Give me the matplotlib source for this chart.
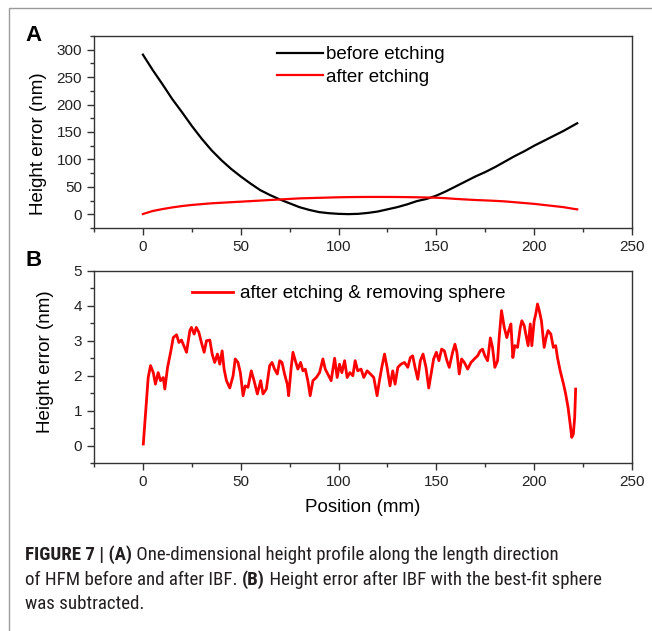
import os
import numpy as np
import matplotlib.pyplot as plt
from matplotlib import font_manager as fm
from matplotlib.patches import Rectangle
from matplotlib.ticker import MultipleLocator

# ---- panel A data ----
pos_a = [0, 5, 10, 15, 20, 25, 30, 35, 40, 45, 50, 55, 60, 65, 70, 75, 80, 85,
         90, 95, 100, 105, 110, 115, 120, 125, 130, 135, 140, 145, 150, 155,
         160, 165, 170, 175, 180, 185, 190, 195, 200, 205, 210, 215, 220, 222]
before = [291, 263, 237, 210, 186, 161, 138, 117, 99, 83, 69, 56, 44, 35, 27,
          20, 13, 8, 4, 2, 0.8, 0.3, 0.8, 2.5, 5, 9, 13, 18, 24, 28, 34, 42,
          51, 60, 69, 77, 86, 96, 106, 115, 125, 134, 143, 152, 162, 166]
after = [0.5, 6, 9.5, 12.5, 15, 17, 18.5, 20, 21, 22, 23, 24, 25, 26, 27, 28,
         29, 29.5, 30, 30.5, 31, 31.3, 31.5, 31.6, 31.6, 31.6, 31.5, 31.3, 31,
         30.6, 30.2, 29.3, 28, 27, 26, 25.3, 24.5, 23.5, 22, 20.5, 19, 17, 15,
         13, 10, 9]

# ---- panel B data (residual after removing sphere) ----
pos_b = [0.2, 1.3, 2.7, 3.9, 5.3, 6.4, 7.8, 9.0, 10.4, 11.2, 12.6, 14.3, 15.5,
         17.2, 18.4, 19.7, 20.9, 22.3, 24.0, 24.8, 26.2, 27.3, 28.6, 29.9, 31.3,
         32.5, 34.2, 35.4, 36.7, 38.1, 39.3, 40.5, 41.5, 42.7, 44.4, 46.1, 47.2,
         48.6, 49.8, 51.2, 52.3, 53.7, 55.4, 56.8, 58.5, 60.2, 61.4, 63.1, 64.8,
         66.0, 67.3, 68.7, 69.9, 71.1, 72.4, 73.8, 74.5, 75.8, 76.7, 77.9, 79.2,
         80.6, 81.8, 83.0, 84.3, 85.5, 86.9, 88.6, 90.3, 92.0, 93.2, 94.5, 96.2,
         98.0, 99.3, 100.5, 101.7, 103.1, 104.4, 105.8, 107.3, 108.5, 109.8,
         111.5, 112.9, 114.6, 116.3, 118.0, 119.7, 120.9, 122.1, 123.5, 124.8,
         126.3, 127.7, 128.9, 130.3, 131.9, 133.7, 135.4, 136.7, 137.9, 139.1,
         140.5, 141.8, 143.2, 144.7, 146.1, 147.3, 148.6, 150.0, 151.3, 152.7,
         154.1, 155.4, 156.6, 158.3, 159.5, 160.5, 161.7, 162.9, 164.3, 166.0,
         167.7, 169.4, 171.1, 172.4, 173.6, 174.8, 176.2, 177.6, 178.7, 179.9,
         181.3, 182.1, 183.3, 184.7, 186.0, 187.0, 188.1, 189.1, 190.1, 191.5,
         192.9, 193.7, 194.9, 195.7, 196.9, 198.0, 198.8, 200.0, 200.8, 201.7,
         202.6, 203.7, 205.1, 206.1, 207.1, 208.5, 209.8, 211.0, 211.9, 213.3,
         215.0, 216.1, 217.3, 218.4, 219.2, 220.0, 220.7, 221.2]
resid = [0.05, 0.9, 1.95, 2.29, 2.09, 1.76, 2.09, 1.86, 1.95, 1.62, 2.24, 2.71,
         3.09, 3.17, 2.95, 3.02, 2.86, 2.67, 3.29, 3.38, 3.19, 3.38, 3.24, 2.95,
         2.67, 3.0, 3.02, 2.62, 2.38, 2.62, 2.33, 2.71, 2.19, 1.86, 1.65, 2.0,
         2.48, 2.38, 2.09, 1.43, 1.71, 1.67, 2.14, 1.86, 1.48, 1.86, 1.48, 1.62,
         2.29, 2.38, 2.19, 2.05, 2.43, 2.38, 2.05, 1.76, 1.43, 2.24, 2.67, 2.43,
         2.19, 2.38, 2.14, 2.19, 1.86, 1.43, 1.86, 1.95, 2.09, 2.48, 2.19, 2.05,
         1.86, 2.5, 1.95, 2.33, 2.09, 2.43, 1.95, 2.09, 2.0, 2.43, 2.14, 2.19,
         1.95, 2.14, 2.05, 1.95, 1.43, 1.86, 2.24, 2.62, 2.24, 1.71, 2.14, 1.76,
         2.24, 2.33, 2.38, 2.24, 2.52, 2.57, 2.24, 1.9, 2.43, 2.62, 2.24, 1.65,
         2.05, 2.48, 2.67, 2.43, 2.76, 2.71, 2.43, 2.24, 2.67, 2.9, 2.67, 2.05,
         2.48, 2.38, 2.19, 2.38, 2.48, 2.57, 2.71, 2.76, 2.57, 2.43, 3.08, 2.81,
         2.24, 2.43, 3.09, 3.86, 3.38, 3.09, 3.29, 3.48, 2.52, 2.86, 2.81, 3.38,
         3.57, 3.43, 3.19, 2.86, 3.48, 2.86, 3.57, 3.76, 4.05, 3.86, 3.57, 2.81,
         3.09, 3.29, 3.19, 2.81, 2.86, 2.52, 2.14, 1.76, 1.48, 1.1, 0.62, 0.24,
         0.33, 0.81, 1.62]

W, H = 652, 631
plt.rcParams['font.family'] = ['Liberation Sans', 'DejaVu Sans']
fig = plt.figure(figsize=(W / 100, H / 100), dpi=100)

def box(l, t, r, b):
    return [l / W, 1 - b / H, (r - l) / W, (b - t) / H]

tick_col = '#222222'

def style(ax):
    ax.xaxis.set_major_locator(MultipleLocator(50))
    ax.xaxis.set_minor_locator(MultipleLocator(25))
    ax.set_xlim(-25, 250)
    ax.tick_params(which='both', direction='out', top=False, right=False,
                   colors='#333333', labelcolor=tick_col, labelsize=11)
    ax.tick_params(which='major', length=5, width=1)
    ax.tick_params(which='minor', length=3, width=1)
    for s in ax.spines.values():
        s.set_color('#333333')
        s.set_linewidth(1)

# Panel A
ax1 = fig.add_axes(box(94, 36, 632, 228))
ax1.plot(pos_a, before, color='black', lw=1.6, label='before etching')
ax1.plot(pos_a, after, color='#ff0000', lw=1.6, label='after etching')
ax1.set_ylim(-25, 325)
ax1.yaxis.set_major_locator(MultipleLocator(50))
ax1.yaxis.set_minor_locator(MultipleLocator(25))
style(ax1)
ax1.set_ylabel('Height error (nm)', fontsize=13.5)
ax1.yaxis.set_label_coords(-0.087, 0.44)
ax1.legend(loc='upper left', bbox_to_anchor=(0.34, 0.948), frameon=False,
           fontsize=13.5, borderpad=0, borderaxespad=0, handlelength=2.45,
           handletextpad=0.16, labelspacing=0.3)

# Panel B
ax2 = fig.add_axes(box(94, 270.7, 632, 463.3))
ax2.plot(pos_b, resid, color='#ff0000', lw=2.0,
         label='after etching & removing sphere')
ax2.set_ylim(-0.5, 5)
ax2.yaxis.set_major_locator(MultipleLocator(1))
ax2.yaxis.set_minor_locator(MultipleLocator(0.5))
style(ax2)
ax2.set_ylabel('Height error (nm)', fontsize=13.5)
ax2.yaxis.set_label_coords(-0.074, 0.527)
ax2.set_xlabel('Position (mm)', fontsize=13.5, labelpad=7)
ax2.legend(loc='upper left', bbox_to_anchor=(0.182, 0.926), frameon=False,
           fontsize=13.5, borderpad=0, borderaxespad=0, handlelength=2.2,
           handletextpad=0.37)

# panel letters
fig.text(33.5 / W, 1 - 35.5 / H, 'A', fontsize=16, fontweight='bold',
         ha='center', va='center')
fig.text(33.5 / W, 1 - 260 / H, 'B', fontsize=16, fontweight='bold',
         ha='center', va='center')

# outer frame (right and bottom edges run off the image)
fig.patches.append(Rectangle((9 / W, -0.05), 1.0, 1.05 - 8 / H,
                             transform=fig.transFigure, fill=False,
                             edgecolor='#9a9a9a', lw=1))


# caption: look for a condensed face, fall back to Liberation Sans
def caption_fonts():
    prefer = ['Liberation Sans Narrow', 'Roboto Condensed', 'Open Sans Condensed',
              'DejaVu Sans']
    groups = {}
    for f in fm.fontManager.ttflist:
        base = os.path.basename(f.fname).lower()
        narrow = ('narrow' in base or 'condensed' in base
                  or 'narrow' in f.name.lower() or 'condensed' in f.name.lower())
        if not narrow or f.style != 'normal':
            continue
        w = f.weight if isinstance(f.weight, int) else \
            {'normal': 400, 'regular': 400, 'bold': 700}.get(f.weight, 0)
        groups.setdefault(f.name, {})[w] = f.fname
    names = [n for n in prefer if n in groups and 400 in groups[n]]
    names += [n for n in groups if n not in names and 400 in groups[n]]
    if names:
        g = groups[names[0]]
        reg = g[400]
        bold = g.get(700, reg)
        return (lambda s: fm.FontProperties(fname=reg, size=s),
                lambda s: fm.FontProperties(fname=bold, size=s))
    return (lambda s: fm.FontProperties(family='Liberation Sans', size=s),
            lambda s: fm.FontProperties(family='Liberation Sans', weight='bold', size=s))


reg_fp, bold_fp = caption_fonts()
cap_col = '#231f20'
lines = [
    [('FIGURE 7 | (A)', 'bold'),
     (' One-dimensional height profile along the length direction', 'normal')],
    [('of HFM before and after IBF. ', 'normal'), ('(B)', 'bold'),
     (' Height error after IBF with the best-fit sphere', 'normal')],
    [('was subtracted.', 'normal')],
]
line_y = [555, 580, 604]
targets = [500, 603]
renderer = fig.canvas.get_renderer()


def layout(size):
    arts, widths = [], []
    for runs, y in zip(lines, line_y):
        x = 25
        for txt, wt in runs:
            fp = bold_fp(size) if wt == 'bold' else reg_fp(size)
            t = fig.text(x / W, 1 - y / H, txt, fontproperties=fp,
                         color=cap_col, va='center', ha='left')
            x += t.get_window_extent(renderer).width
            arts.append(t)
        widths.append(x - 25)
    return arts, widths


arts, widths = layout(12)
scale = (widths[0] * targets[0] + widths[1] * targets[1]) / \
        (widths[0] ** 2 + widths[1] ** 2)
for a in arts:
    a.remove()
layout(12 * scale)

fig.savefig('out.png', dpi=100)
